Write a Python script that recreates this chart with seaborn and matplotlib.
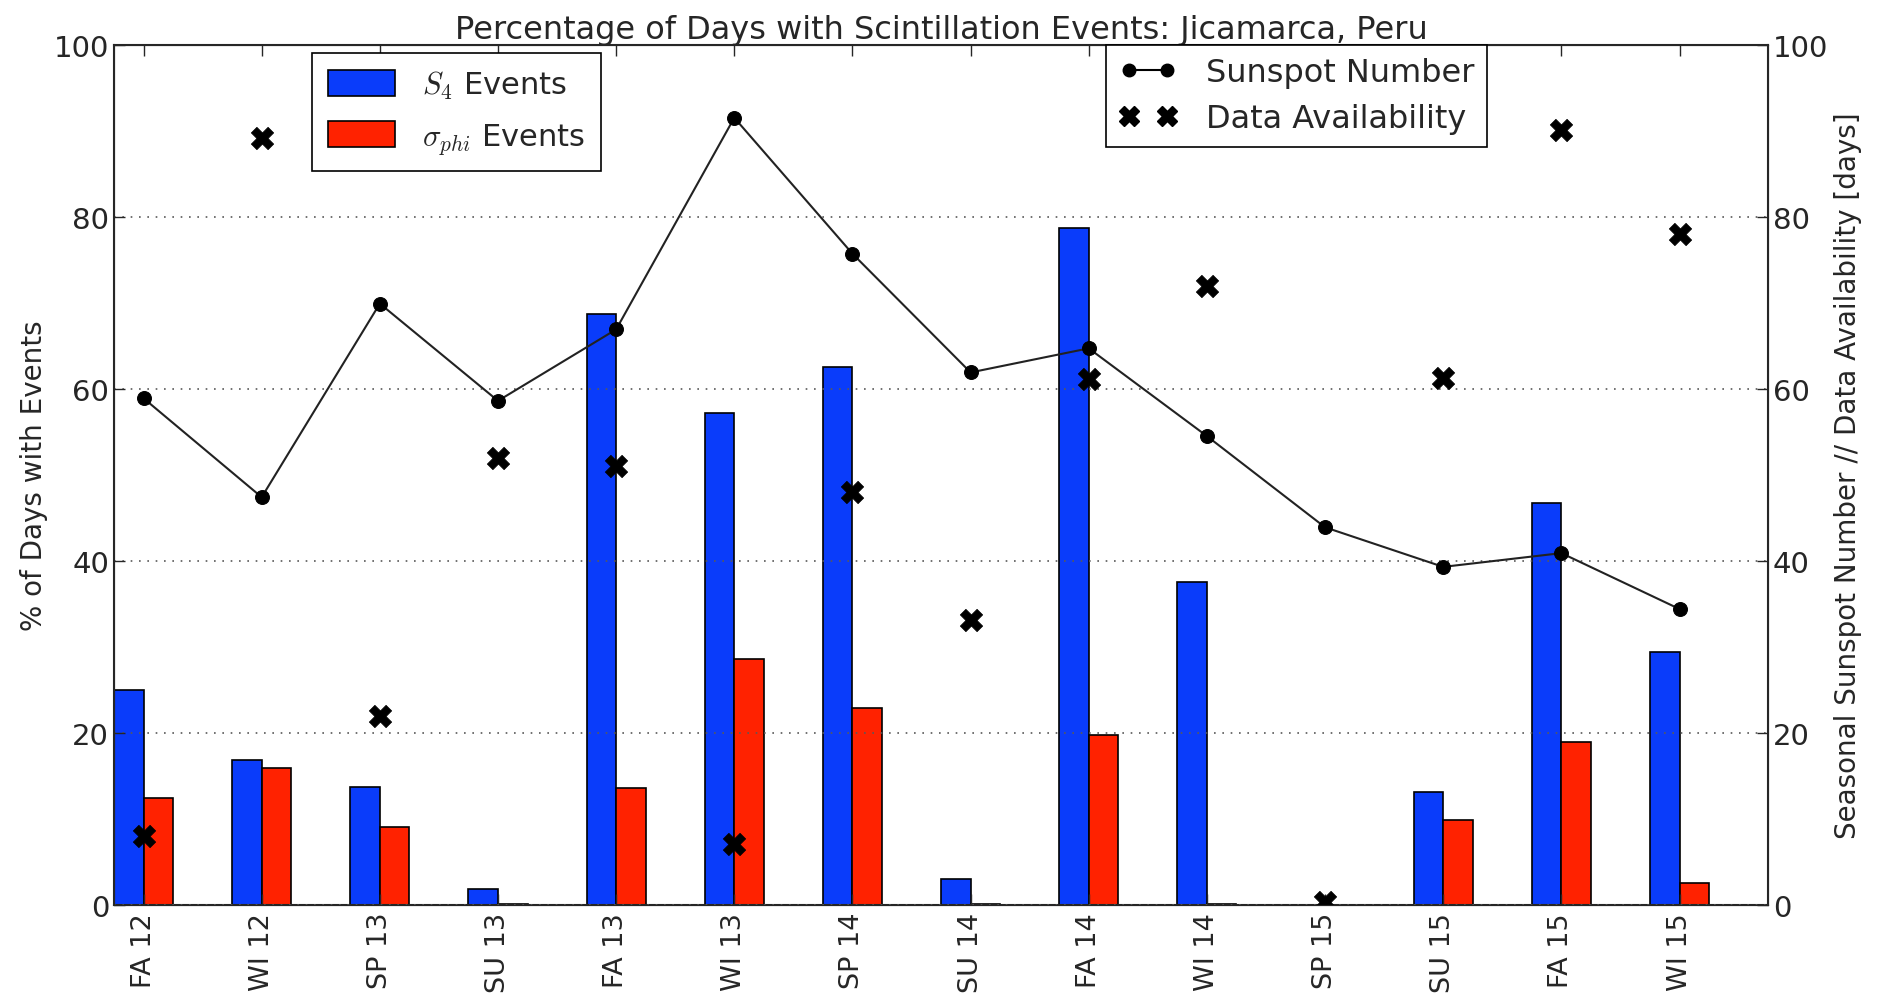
import numpy as np
import pandas as pd
import matplotlib
matplotlib.use("Agg")
import matplotlib.pyplot as plt
import seaborn as sns
from matplotlib.patches import Patch
from matplotlib.lines import Line2D

seasons = ["FA 12", "WI 12", "SP 13", "SU 13", "FA 13", "WI 13", "SP 14",
           "SU 14", "FA 14", "WI 14", "SP 15", "SU 15", "FA 15", "WI 15"]
s4_events = [25.0, 16.9, 13.7, 1.9, 68.7, 57.2, 62.5, 3.0, 78.7, 37.5, np.nan, 13.1, 46.7, 29.4]
sigma_events = [12.4, 15.9, 9.1, 0.1, 13.6, 28.6, 22.9, 0.1, 19.8, 0.1, np.nan, 9.9, 19.0, 2.6]
sunspot = [58.9, 47.4, 69.9, 58.6, 66.9, 91.5, 75.7, 61.9, 64.7, 54.5, 43.9, 39.3, 40.9, 34.4]
availability = [8.0, 89.1, 22.0, 52.0, 51.0, 7.1, 48.0, 33.1, 61.1, 72.0, 0.4, 61.2, 90.1, 78.0]

sns.set_style("ticks")
plt.rcParams["font.family"] = ["DejaVu Sans"]
plt.rcParams["mathtext.fontset"] = "cm"
plt.rcParams["xtick.direction"] = "in"
plt.rcParams["ytick.direction"] = "in"

df = pd.DataFrame({
    "season": seasons * 2,
    "value": s4_events + sigma_events,
    "kind": ["S4"] * len(seasons) + ["sigma"] * len(seasons),
})

fig = plt.figure(figsize=(18.81, 10.03), dpi=100)
ax = fig.add_axes([0.0606, 0.0967, 0.8794, 0.8578])

blue = "#0a3cfa"
red = "#ff2200"
sns.barplot(data=df, x="season", y="value", hue="kind", order=seasons,
            palette={"S4": blue, "sigma": red}, width=0.5, errorbar=None,
            edgecolor="black", linewidth=1.2, saturation=1, ax=ax)
ax.get_legend().remove()

ax.set_xlim(-0.25, len(seasons) - 0.25)
ax.set_ylim(0, 100)
ax.set_yticks(range(0, 101, 20))
ax.yaxis.grid(True, linestyle=(0, (1, 4)), color="0.35", linewidth=1.2)
ax.set_axisbelow(False)
ax.set_xticks(range(len(seasons)))
ax.set_xticklabels(seasons, rotation=90, fontsize=19.5)
ax.tick_params(axis="y", labelsize=21, length=8, width=1)
ax.tick_params(axis="x", top=True, length=8, width=1, pad=5)
ax.set_xlabel("")
ax.set_ylabel("% of Days with Events", fontsize=20)
ax.set_title("Percentage of Days with Scintillation Events: Jicamarca, Peru",
             fontsize=23, pad=5)
for s in ax.spines.values():
    s.set_linewidth(1.5)

ax2 = ax.twinx()
x_pos = np.arange(len(seasons))
sns.lineplot(x=x_pos, y=sunspot, ax=ax2, color="#222222", linewidth=1.5,
             marker="o", markersize=10, markeredgecolor="black",
             markerfacecolor="black")
sns.scatterplot(x=x_pos, y=availability, ax=ax2, marker="X", s=260,
                color="black", edgecolor="black", linewidth=0.5)
ax2.set_ylim(0, 100)
ax2.set_yticks(range(0, 101, 20))
ax2.tick_params(axis="y", labelsize=21, length=8, width=1)
ax2.set_ylabel("Seasonal Sunspot Number // Data Availability [days]", fontsize=20)
ax2.set_xlim(-0.25, len(seasons) - 0.25)

left_handles = [Patch(facecolor=blue, edgecolor="black", linewidth=1.2),
                Patch(facecolor=red, edgecolor="black", linewidth=1.2)]
leg1 = ax.legend(left_handles, [r"$S_4$ Events", r"$\sigma_{phi}$ Events"],
                 loc="upper left", bbox_to_anchor=(0.12, 0.99), fontsize=22,
                 fancybox=False, framealpha=1, edgecolor="black",
                 handlelength=2.2, handleheight=0.9, borderpad=0.5,
                 labelspacing=0.65, handletextpad=0.9, borderaxespad=0)
leg1.get_frame().set_linewidth(1.2)

right_handles = [Line2D([], [], color="black", marker="o", markersize=9, linewidth=1.5),
                 Line2D([], [], color="black", marker="X", markersize=15, linestyle="none")]
leg2 = ax2.legend(right_handles, ["Sunspot Number", "Data Availability"],
                  loc="upper left", bbox_to_anchor=(0.60, 1.0), fontsize=23,
                  fancybox=False, framealpha=1, edgecolor="black", numpoints=2,
                  handlelength=1.8, borderpad=0.4, labelspacing=0.45,
                  handletextpad=0.9, borderaxespad=0)
leg2.get_frame().set_linewidth(1.2)

fig.savefig("out.png", dpi=100)
